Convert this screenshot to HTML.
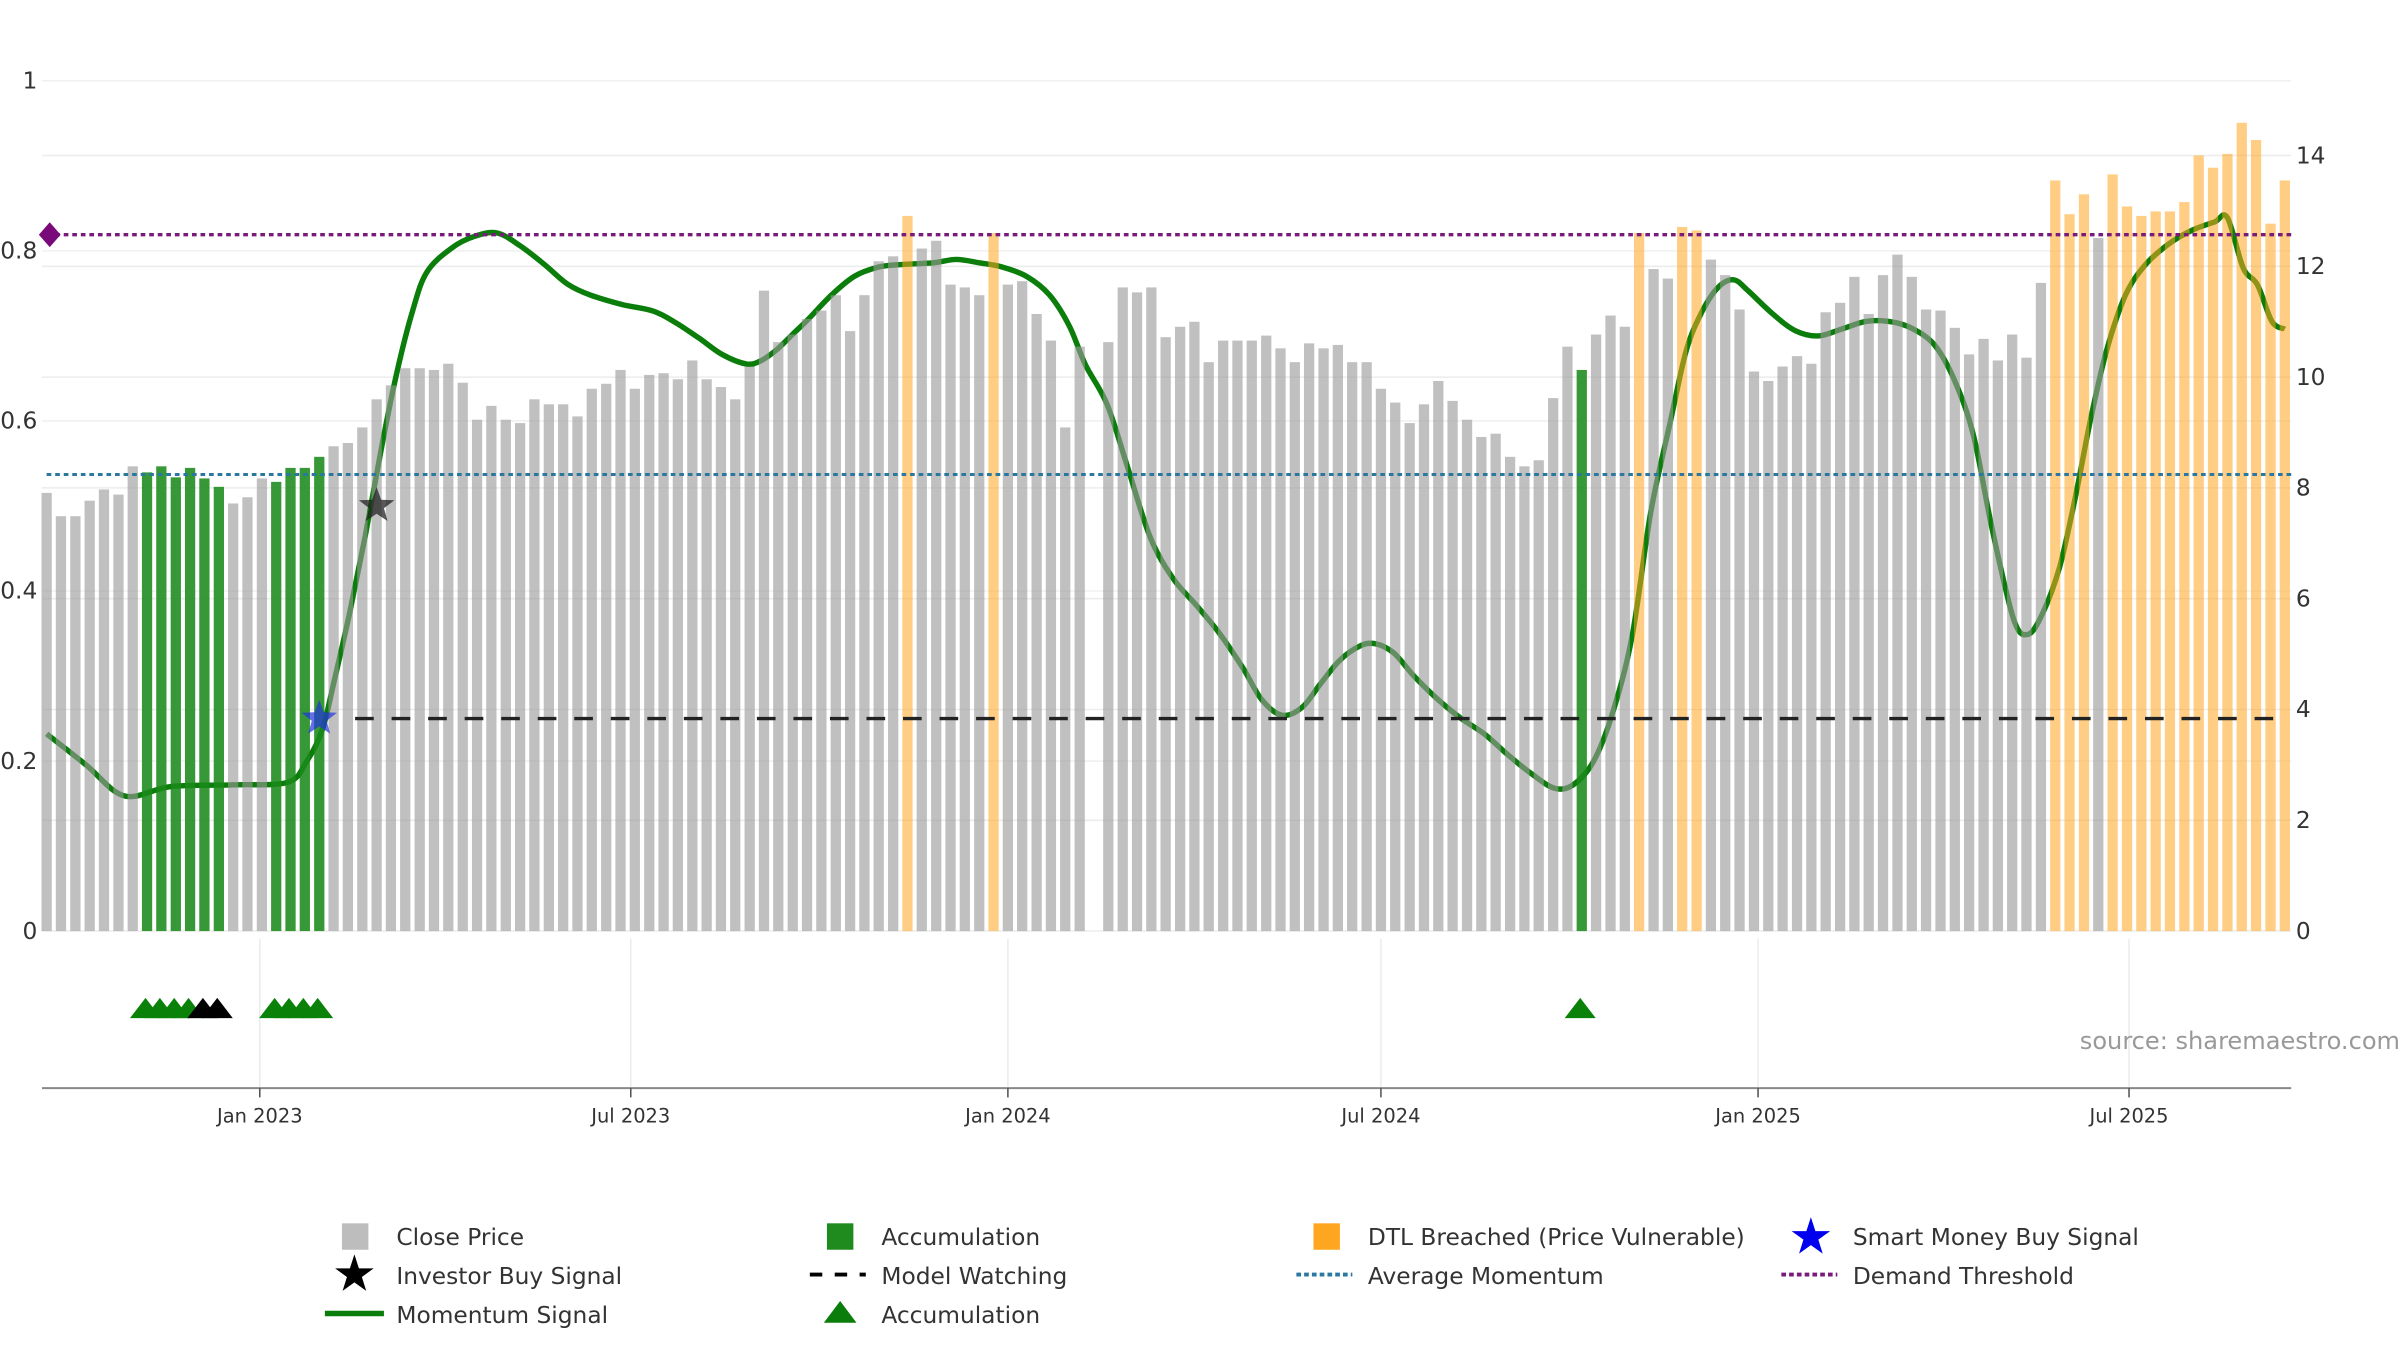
<!DOCTYPE html>
<html><head><meta charset="utf-8"><style>
html,body{margin:0;padding:0;background:#fff}
svg{display:block;font-family:"DejaVu Sans","Liberation Sans",sans-serif}
</style></head><body>
<svg id="chart" width="2400" height="1350" viewBox="0 0 1544 868.5" xmlns="http://www.w3.org/2000/svg">
<g id="grid"></g>
<g id="momline"></g>
<g id="bars"></g>
<g id="overlay"></g>
<g id="axes"></g>
<text x="1338" y="675" font-size="15.5" fill="#999">source: sharemaestro.com</text>
<g id="legend" font-size="15" fill="#333">
  <g><rect x="220" y="787" width="17" height="17" fill="#bdbdbd"/><text x="255" y="801">Close Price</text></g>
  <g><rect x="532" y="787" width="17" height="17" fill="#1f8b1f"/><text x="567" y="801">Accumulation</text></g>
  <g><rect x="845" y="787" width="17" height="17" fill="#ffa620"/><text x="880" y="801">DTL Breached (Price Vulnerable)</text></g>
  <g><polygon id="lgStarB" fill="#0000ee"/><text x="1192" y="801">Smart Money Buy Signal</text></g>
  <g><polygon id="lgStarK" fill="#000"/><text x="255" y="826">Investor Buy Signal</text></g>
  <g><line x1="521" y1="820" x2="557" y2="820" stroke="#000" stroke-width="2.5" stroke-dasharray="8,8"/><text x="567" y="826">Model Watching</text></g>
  <g><line x1="834" y1="820" x2="870" y2="820" stroke="#2a77a0" stroke-width="2.5" stroke-dasharray="3,2"/><text x="880" y="826">Average Momentum</text></g>
  <g><line x1="1146" y1="820" x2="1182" y2="820" stroke="#7a1a7a" stroke-width="2.5" stroke-dasharray="3,2"/><text x="1192" y="826">Demand Threshold</text></g>
  <g><line x1="209" y1="845" x2="247" y2="845" stroke="#0a7d0a" stroke-width="3.5"/><text x="255" y="851">Momentum Signal</text></g>
  <g><polygon points="530,851 551,851 540.5,837" fill="#0a7d0a"/><text x="567" y="851">Accumulation</text></g>
</g>
</svg>
<script>
// ---- data ----
const startDate = new Date(2022, 8, 19);
const prices = [7.91,7.49,7.49,7.77,7.97,7.88,8.39,8.28,8.39,8.19,8.36,8.17,8.02,7.72,7.83,8.17,8.11,8.36,8.36,8.56,
8.75,8.81,9.09,9.60,9.85,10.16,10.16,10.13,10.24,9.90,9.23,9.48,9.23,9.17,9.60,9.51,9.51,9.29,9.79,9.88,
10.13,9.79,10.04,10.07,9.96,10.30,9.96,9.82,9.60,10.19,11.56,10.63,10.77,11.05,11.20,11.48,10.83,11.48,12.09,12.18,
12.91,12.32,12.46,11.67,11.62,11.48,12.60,11.67,11.73,11.14,10.66,9.09,10.55,0,10.63,11.62,11.53,11.62,10.72,10.91,
11.00,10.27,10.66,10.66,10.66,10.75,10.52,10.27,10.61,10.52,10.58,10.27,10.27,9.79,9.54,9.17,9.51,9.93,9.57,9.23,
8.92,8.98,8.56,8.39,8.50,9.62,10.55,10.13,10.77,11.11,10.91,12.60,11.95,11.78,12.71,12.65,12.12,11.84,11.22,10.10,
9.93,10.19,10.38,10.24,11.17,11.34,11.81,11.14,11.84,12.21,11.81,11.22,11.20,10.89,10.41,10.69,10.30,10.77,10.35,11.70,
13.55,12.94,13.30,12.51,13.66,13.08,12.91,12.99,12.99,13.16,14.00,13.78,14.03,14.59,14.28,12.77,13.55];
const accumWeeks = [7,8,9,10,11,12,16,17,18,19,107];
const dtlWeeks = [60,66,111,114,115,140,141,142,144,145,146,147,148,149,150,151,152,153,154,155,156];
const momWeeks = [0,2.71,5.42,8.67,13.0,16.8,18.1,19.2,20.0,21.1,22.2,23.3,24.4,25.5,26.5,28.2,29.8,31.4,33.0,34.7,36.3,37.9,40.1,42.3,43.9,45.5,47.1,48.8,49.8,50.9,52.0,53.1,54.7,56.3,58.0,59.6,61.8,63.4,65.0,66.6,68.3,69.9,71.3,72.4,73.9,75.3,76.9,78.5,80.2,81.8,83.4,84.7,86.1,87.5,88.8,90.1,91.5,92.6,93.9,95.3,97.0,98.6,100.2,101.8,103.5,105.1,106.4,107.8,109.1,110.5,111.8,113.2,114.3,115.4,116.5,117.6,118.6,120.3,121.9,123.5,125.1,126.8,128.4,130.0,131.6,133.0,134.3,135.6,137.1,138.1,139.1,140.3,141.4,142.5,143.6,144.9,146.3,147.9,149.5,151.1,152.0,153.1,154.1,155.1,156.0];
const momVals = [0.232,0.196,0.159,0.170,0.172,0.175,0.199,0.236,0.291,0.373,0.464,0.565,0.656,0.729,0.775,0.803,0.817,0.821,0.806,0.784,0.761,0.748,0.737,0.729,0.715,0.697,0.678,0.667,0.671,0.684,0.702,0.720,0.748,0.770,0.781,0.784,0.786,0.790,0.786,0.781,0.770,0.748,0.711,0.666,0.620,0.548,0.464,0.415,0.382,0.349,0.309,0.272,0.254,0.263,0.291,0.318,0.335,0.338,0.327,0.300,0.272,0.250,0.232,0.208,0.185,0.168,0.172,0.199,0.254,0.346,0.492,0.601,0.684,0.729,0.757,0.766,0.753,0.726,0.706,0.700,0.708,0.717,0.717,0.709,0.689,0.647,0.583,0.473,0.367,0.349,0.373,0.428,0.510,0.605,0.684,0.748,0.784,0.808,0.824,0.834,0.839,0.780,0.760,0.717,0.708];
const demandThreshold = 0.819;
const avgMomentum = 0.537;
const watchLevel = 0.25;
const watchStartWeek = 21.5;
const smartMoney = {week: 19, value: 0.25};
const investorBuy = {week: 23, value: 0.50};
const triGreenWeeks = [7,8,9,10,16,17,18,19,107];
const triBlackWeeks = [11,12];
const leftTicks = [0,0.2,0.4,0.6,0.8,1];
const leftTickLabels = ["0","0.2","0.4","0.6","0.8","1"];
const rightTicks = [0,2,4,6,8,10,12,14];
const dateTicks = [[2023,0],[2023,6],[2024,0],[2024,6],[2025,0],[2025,6]];
const dateTickLabels = ["Jan 2023","Jul 2023","Jan 2024","Jul 2024","Jan 2025","Jul 2025"];

// ---- scales ----
const NS="http://www.w3.org/2000/svg";
const xW = w => 30 + 9.23*w;
const yL = v => 599 - v*547;
const yR = v => 599 - v*35.64;
const xDate = d => xW((d - startDate)/(7*864e5));
function mk(tag, attrs, parent){const e=document.createElementNS(NS,tag);for(const k in attrs)e.setAttribute(k,attrs[k]);parent.appendChild(e);return e;}
const G=id=>document.getElementById(id);
function starPts(cx,cy,R,r){let p=[];for(let i=0;i<10;i++){const a=-Math.PI/2+i*Math.PI/5;const rr=i%2?r:R;p.push((cx+rr*Math.cos(a)).toFixed(1)+","+(cy+rr*Math.sin(a)).toFixed(1));}return p.join(" ");}

// grid
const grid=G('grid');
rightTicks.forEach(t=>{const l=mk('line',{x1:27,x2:1474,y1:yR(t),y2:yR(t),stroke:'#ececec','stroke-width':1},grid);

});
leftTicks.forEach(t=>{const l=mk('line',{x1:27,x2:1474,y1:yL(t),y2:yL(t),stroke:'#f1f1f1','stroke-width':1},grid);

});
dateTicks.forEach(d=>{const x=xDate(new Date(d[0],d[1],1));const l=mk('line',{x1:x,x2:x,y1:604,y2:700,stroke:'#ececec','stroke-width':1},grid);

});

// momentum line (smoothed Catmull-Rom)
const pts=momWeeks.map((w,i)=>[xW(w),yL(momVals[i])]);
let dstr='M'+pts[0][0].toFixed(1)+','+pts[0][1].toFixed(1);
for(let i=0;i<pts.length-1;i++){
  const p0=pts[Math.max(0,i-1)],p1=pts[i],p2=pts[i+1],p3=pts[Math.min(pts.length-1,i+2)];
  const c1=[p1[0]+(p2[0]-p0[0])/6,p1[1]+(p2[1]-p0[1])/6];
  const c2=[p2[0]-(p3[0]-p1[0])/6,p2[1]-(p3[1]-p1[1])/6];
  dstr+='C'+c1[0].toFixed(1)+','+c1[1].toFixed(1)+' '+c2[0].toFixed(1)+','+c2[1].toFixed(1)+' '+p2[0].toFixed(1)+','+p2[1].toFixed(1);
}
const ml=mk('path',{d:dstr,fill:'none',stroke:'#0a7d0a','stroke-width':3.5,'stroke-linejoin':'round'},G('momline'));



// bars
const bars=G('bars');
prices.forEach((p,i)=>{
  if(p<=0)return;
  let fill='#9a9a9a',op=0.62,name='close-price-bar';
  if(accumWeeks.includes(i)){fill='#1a8a1a';op=0.88;name='accumulation-bar';}
  else if(dtlWeeks.includes(i)){fill='#ffa61f';op=0.55;name='dtl-breached-bar';}
  const b=mk('rect',{x:(xW(i)-3.3).toFixed(1),y:yR(p).toFixed(1),width:6.6,height:(599-yR(p)).toFixed(1),fill:fill,'fill-opacity':op},bars);
  
  
});

// overlays
const ov=G('overlay');
let e=mk('line',{x1:30,x2:1474,y1:yL(demandThreshold),y2:yL(demandThreshold),stroke:'#7a1a7a','stroke-width':2.2,'stroke-dasharray':'3,2.5'},ov);


e=mk('polygon',{points:`25,${yL(demandThreshold)} 32,${yL(demandThreshold)-8} 39,${yL(demandThreshold)} 32,${yL(demandThreshold)+8}`,fill:'#7a0a7a'},ov);


e=mk('line',{x1:30,x2:1474,y1:yL(avgMomentum),y2:yL(avgMomentum),stroke:'#2a77a0','stroke-width':2,'stroke-dasharray':'3,2.5'},ov);


e=mk('line',{x1:xW(watchStartWeek),x2:1470,y1:yL(watchLevel),y2:yL(watchLevel),stroke:'#222','stroke-width':2.2,'stroke-dasharray':'12,11.5'},ov);


e=mk('polygon',{points:starPts(xW(smartMoney.week),yL(smartMoney.value),12,5),fill:'#2233dd','fill-opacity':0.7},ov);


e=mk('polygon',{points:starPts(xW(investorBuy.week),yL(investorBuy.value),12,5),fill:'#222','fill-opacity':0.75},ov);


triGreenWeeks.forEach(w=>{const x=xW(w)-1;const t=mk('polygon',{points:`${x-10},655 ${x+10},655 ${x},642`,fill:'#0a820a'},ov);

});
triBlackWeeks.forEach(w=>{const x=xW(w)-1;const t=mk('polygon',{points:`${x-10},655 ${x+10},655 ${x},642`,fill:'#000'},ov);

});

// axes
const ax=G('axes');
e=mk('line',{x1:27,x2:1474,y1:700,y2:700,stroke:'#888','stroke-width':1.3},ax);


leftTicks.forEach((t,i)=>{const tx=mk('text',{x:24,y:yL(t)+5,'font-size':15,fill:'#333','text-anchor':'end'},ax);tx.textContent=leftTickLabels[i];

});
rightTicks.forEach(t=>{const tx=mk('text',{x:1477,y:yR(t)+5,'font-size':15,fill:'#333'},ax);tx.textContent=String(t);

});
dateTicks.forEach((d,i)=>{const x=xDate(new Date(d[0],d[1],1));
const tk=mk('line',{x1:x,x2:x,y1:700,y2:706,stroke:'#555','stroke-width':1},ax);


const tx=mk('text',{x:x,y:722,'font-size':12.5,fill:'#333','text-anchor':'middle'},ax);tx.textContent=dateTickLabels[i];

});

// legend stars
G('lgStarB').setAttribute('points',starPts(1165,796,13,5));
G('lgStarK').setAttribute('points',starPts(228,820,13,5));
</script>
</body></html>
